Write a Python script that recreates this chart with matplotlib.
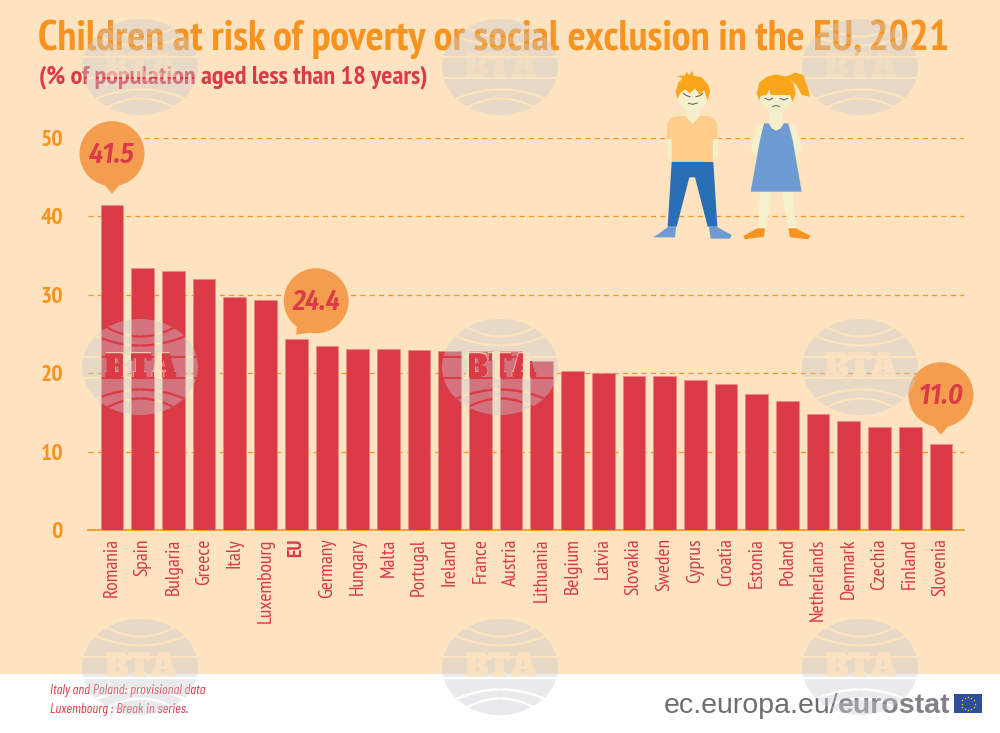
import numpy as np
import matplotlib
matplotlib.use('Agg')
import matplotlib.pyplot as plt
from matplotlib.path import Path
from matplotlib.patches import Circle, Ellipse, PathPatch, Polygon, Rectangle
from matplotlib.textpath import TextPath
from matplotlib.font_manager import FontProperties
from matplotlib.transforms import Affine2D

countries = ['Romania', 'Spain', 'Bulgaria', 'Greece', 'Italy', 'Luxembourg', 'EU', 'Germany',
             'Hungary', 'Malta', 'Portugal', 'Ireland', 'France', 'Austria', 'Lithuania', 'Belgium',
             'Latvia', 'Slovakia', 'Sweden', 'Cyprus', 'Croatia', 'Estonia', 'Poland', 'Netherlands',
             'Denmark', 'Czechia', 'Finland', 'Slovenia']
values = [41.5, 33.4, 33.0, 32.0, 29.7, 29.4, 24.4, 23.5, 23.1, 23.1, 22.9, 22.8, 22.8, 22.8,
          21.6, 20.3, 20.0, 19.7, 19.6, 19.1, 18.6, 17.3, 16.5, 14.8, 13.9, 13.2, 13.1, 11.0]
yticks = [0, 10, 20, 30, 40, 50]

BG = '#FDE3BF'
ORANGE = '#F7931E'
RED = '#DB3A47'
BUBBLE = '#F49D4E'
SKIN = '#F5F0CC'
BLUE = '#2A6EB5'
LBLUE = '#6F9BD3'
HAIR = '#FAA61A'
NARROW = ['PT Sans Narrow', 'Barlow Condensed', 'Liberation Sans Narrow', 'Liberation Sans']
ITALIC = ['Barlow Condensed', 'Fira Sans Condensed', 'Liberation Sans']
BUBBLE_FONT = ['Fira Sans Condensed', 'Barlow Condensed', 'Liberation Sans']
SLAB = ['Alfa Slab One', 'DejaVu Serif']

fig = plt.figure(figsize=(10, 7.33), dpi=100, facecolor='white')

# background + pixel coordinate overlay for all the decoration
back = fig.add_axes([0, 0, 1, 1], zorder=0)
back.set_xlim(0, 1000)
back.set_ylim(733, 0)
back.axis('off')
back.add_patch(Rectangle((0, 0), 1000, 674, fc=BG, ec='none'))

# chart itself: y 0-50 is px 530-138, bars every 30.7 px from x=112
ax = fig.add_axes([0.088, 1 - 530 / 733, 0.876, 392 / 733], zorder=1)
ax.patch.set_alpha(0)
x = np.arange(len(countries))
ax.set_xlim((88 - 112) / 30.7, (964 - 112) / 30.7)
ax.set_ylim(0, 50)
bars = ax.bar(x, values, width=0.74, color=RED, edgecolor='#F08A80', linewidth=0.5, zorder=3)
ax.set_yticks(yticks)
ax.set_yticklabels(yticks, family=NARROW, fontweight='bold', fontsize=17, color=ORANGE)
ax.set_xticks(x)
ax.set_xticklabels(countries, family=NARROW, rotation=90, fontsize=14, color=RED)
ax.get_xticklabels()[countries.index('EU')].set_fontweight('bold')
ax.tick_params(axis='x', length=0, pad=6)
ax.tick_params(axis='y', length=0, pad=18)
ax.grid(axis='y', color=ORANGE, linestyle=(0, (4, 3.5)), linewidth=0.9, zorder=1)
ax.set_axisbelow(True)
for s in ['top', 'right', 'left']:
    ax.spines[s].set_visible(False)
ax.spines['bottom'].set_color(ORANGE)
ax.spines['bottom'].set_linewidth(1.2)

top = fig.add_axes([0, 0, 1, 1], zorder=2)
top.set_xlim(0, 1000)
top.set_ylim(733, 0)
top.axis('off')

top.text(38, 50, 'Children at risk of poverty or social exclusion in the EU, 2021', family=NARROW,
         fontweight='bold', fontsize=30.45, color=ORANGE)
top.text(39, 83, '(% of population aged less than 18 years)', family=NARROW,
         fontweight='bold', fontsize=19, color=RED)
top.text(50, 694, 'Italy and Poland: provisional data', family=ITALIC, style='italic', fontsize=10.2, color=RED)
top.text(50, 713, 'Luxembourg : Break in series.', family=ITALIC, style='italic', fontsize=10.2, color=RED)
top.text(838, 713, 'ec.europa.eu/', family='Liberation Sans', fontsize=20.5, color='#6D6E71', ha='right')
top.text(838, 713, 'eurostat', family='Liberation Sans', fontweight='bold', fontsize=20.5, color='#808285')

# eu flag
top.add_patch(Rectangle((954, 694), 28, 19, fc='#2F4F9E', ec='none'))
ang = np.arange(12) * np.pi / 6
top.scatter(968 + 6.5 * np.cos(ang), 703.5 + 6.5 * np.sin(ang), s=3, marker='*', color='#FFE000', linewidths=0)


# callouts, placed relative to the bar they belong to
def bubble(name, gap=10, shift=0, r=32.5):
    i = countries.index(name)
    tx = 112 + 30.7 * i
    cx = tx + shift
    tip_y = 530 - values[i] * 7.84 - gap
    cy = tip_y - 40 if shift == 0 else tip_y - 34
    top.add_patch(Circle((cx, cy), r, fc=BUBBLE, ec='none', zorder=4))
    if shift == 0:
        base = [(tx - 9, cy + r - 3), (tx + 9, cy + r - 3)]
    else:
        base = [(tx + 1, cy + r - 14), (tx + 16, cy + r - 1)]
    top.add_patch(Polygon(base + [(tx, tip_y)], fc=BUBBLE, ec='none', zorder=4))
    top.text(cx, cy + 1, '%.1f' % values[i], family=BUBBLE_FONT, style='italic', fontweight='semibold',
             fontsize=20.5, color=RED, ha='center', va='center', zorder=5)


bubble('Romania', gap=11)
bubble('EU', gap=4, shift=20)
bubble('Slovenia', gap=9)


def z(pts):
    return [(640 + a / 3, 60 + b / 3) for a, b in pts]


def poly(pts, color, zo=3):
    top.add_patch(Polygon(z(pts), fc=color, ec='none', zorder=zo))


def oval(cx, cy, w, h, color, zo=3):
    (px, py) = z([(cx, cy)])[0]
    top.add_patch(Ellipse((px, py), w / 3, h / 3, fc=color, ec='none', zorder=zo))


def face(pts, color='#55566B'):
    p = np.array(z(pts))
    top.plot(p[:, 0], p[:, 1], color=color, lw=0.7, zorder=4)


# boy
poly([(80, 235), (100, 235), (100, 305), (84, 290)], SKIN)
poly([(215, 235), (235, 235), (232, 290), (215, 305)], SKIN)
poly([(140, 140), (178, 140), (178, 172), (158, 195), (140, 172)], SKIN)
poly([(80, 237), (82, 190), (95, 172), (112, 168), (135, 168), (158, 192), (180, 168), (205, 168), (222, 175),
      (232, 195), (232, 237), (218, 237), (218, 306), (95, 306), (95, 237)], '#FFCC8A')
poly([(95, 306), (220, 306), (232, 500), (203, 500), (165, 352), (148, 352), (110, 500), (83, 500)], BLUE)
poly([(85, 500), (108, 500), (105, 532), (40, 532), (65, 515)], LBLUE)
poly([(207, 500), (230, 500), (275, 525), (270, 536), (212, 536)], LBLUE)
oval(158, 112, 90, 84, SKIN)
poly([(113, 118), (107, 95), (115, 68), (128, 55), (110, 48), (135, 46), (140, 35), (147, 45), (158, 33), (160, 47),
      (185, 52), (205, 75), (210, 95), (203, 122), (192, 90), (180, 105), (165, 85), (150, 100), (135, 88), (120, 100)], HAIR)
face([(130, 100), (140, 107), (150, 110)])
face([(168, 110), (180, 107), (188, 100)])
face([(145, 130), (158, 133), (172, 129)])

# girl
poly([(352, 195), (372, 190), (360, 245), (346, 292), (333, 265)], SKIN)
poly([(445, 192), (465, 200), (485, 262), (470, 290), (458, 245)], SKIN)
poly([(388, 150), (428, 150), (428, 195), (408, 215), (388, 195)], SKIN)
poly([(360, 395), (397, 395), (378, 505), (355, 505)], SKIN)
poly([(425, 395), (458, 395), (468, 505), (445, 505)], SKIN)
poly([(372, 190), (386, 190), (395, 205), (408, 212), (422, 205), (432, 190), (445, 190), (458, 240), (485, 395),
      (332, 395), (360, 240)], LBLUE)
poly([(352, 505), (375, 505), (372, 530), (315, 538), (310, 528)], ORANGE)
poly([(445, 505), (468, 505), (512, 528), (505, 538), (450, 532)], ORANGE)
poly([(437, 50), (465, 38), (490, 45), (503, 80), (510, 110), (485, 105), (470, 75)], HAIR)
oval(408, 110, 100, 88, SKIN)
poly([(358, 122), (350, 100), (358, 68), (380, 50), (408, 43), (440, 50), (460, 70), (467, 100), (458, 125), (450, 105),
      (392, 105), (388, 88), (380, 105), (362, 108)], HAIR)
face([(375, 115), (387, 120), (398, 115)])
face([(420, 115), (432, 120), (443, 115)])
face([(398, 139), (408, 137), (418, 139)])

# bar outlines in pixels, the logo letters stay red where they cross a bar
verts, codes = [], []
for i, v in enumerate(values):
    bx = 112 + 30.7 * i
    by = 530 - v * 7.84
    verts += [(bx - 11.4, by), (bx + 11.4, by), (bx + 11.4, 530), (bx - 11.4, 530), (bx - 11.4, by)]
    codes += [Path.MOVETO, Path.LINETO, Path.LINETO, Path.LINETO, Path.CLOSEPOLY]
bar_path = Path(verts, codes)

# same letters as a shape, agg ignores clip paths on text
logo_size = 22
logo_px = logo_size * 100 / 72
logo_shape = TextPath((0, 0), 'BTA', size=logo_px, prop=FontProperties(family=SLAB))
logo_w = logo_shape.get_extents().width

# watermark logos, the gaps are real gaps so the bars show through
for cy in [67, 367, 667]:
    for cx in [140, 500, 860]:
        clip = Ellipse((cx, cy), 116, 96, transform=top.transData)
        dx = np.linspace(-58, 58, 80)
        arc_a = -31 - 11 * (dx / 37) ** 2
        arc_b = -22 - 11 * (dx / 48) ** 2
        bands = [(-50 + 0 * dx, arc_a - 1.2), (arc_a + 1.2, arc_b - 1.2), (arc_b + 1.2, -11.5 + 0 * dx),
                 (-9.5 + 0 * dx, 9.5 + 0 * dx), (11.5 + 0 * dx, -arc_b - 1.2), (-arc_b + 1.2, -arc_a - 1.2),
                 (-arc_a + 1.2, 50 + 0 * dx)]
        for y1, y2 in bands:
            f = top.fill_between(cx + dx, cy + y1, cy + np.maximum(y1, y2), color='#C8CBD0', alpha=0.4,
                                 linewidth=0, zorder=10)
            f.set_clip_path(clip)
        # top row sits on the title, keep the letters faint there
        top.text(cx, cy + 10, 'BTA', family=SLAB, fontsize=logo_size, color=BG, alpha=0.45 if cy == 67 else 0.8,
                 ha='center', va='baseline', zorder=11)
        if cy == 367:
            tr = Affine2D().scale(1, -1).translate(cx - logo_w / 2, cy + 10) + top.transData
            p = PathPatch(logo_shape, fc=RED, ec='none', transform=tr, zorder=12)
            top.add_patch(p)
            p.set_clip_path(bar_path, top.transData)

fig.savefig('out.png', dpi=100, facecolor='white')
